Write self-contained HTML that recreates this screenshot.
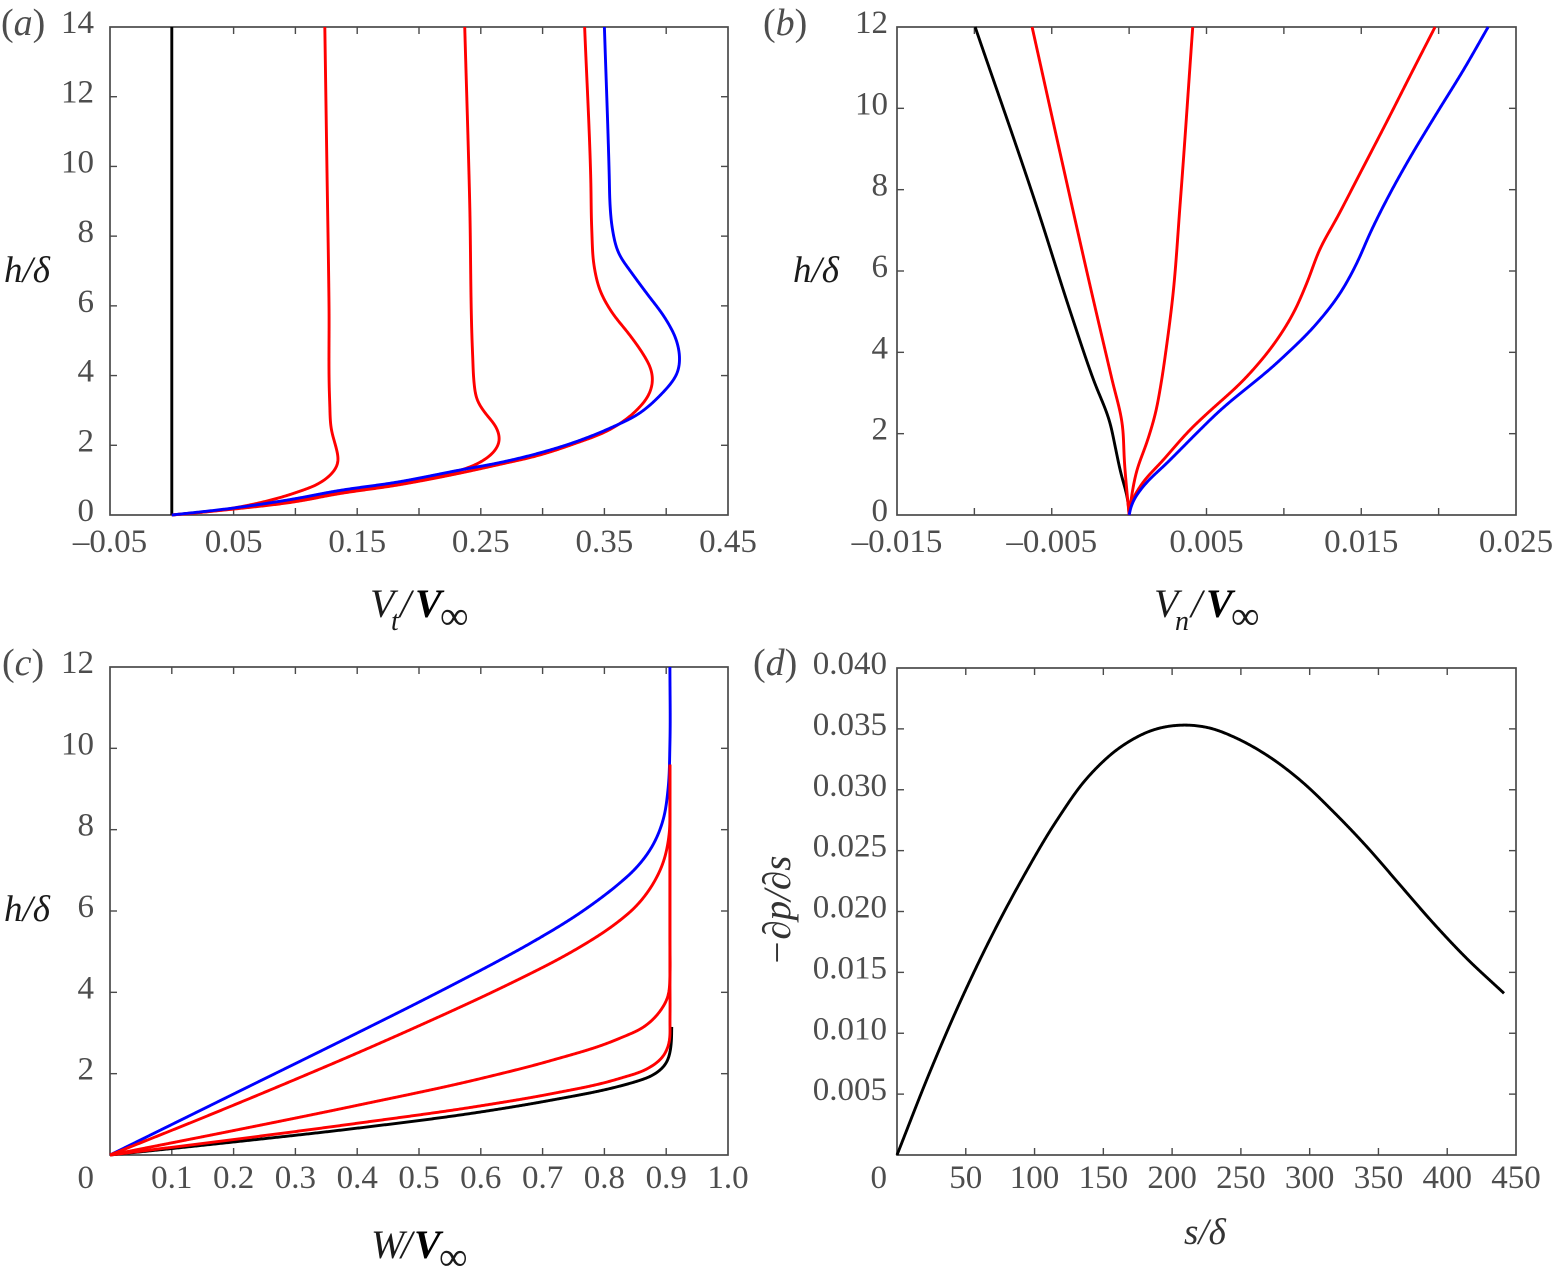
<!DOCTYPE html>
<html lang="en">
<head>
<meta charset="utf-8">
<title>Boundary layer velocity profiles and pressure gradient</title>
<style>
html,body{margin:0;padding:0;background:#fff;width:1553px;height:1272px;overflow:hidden}
svg{display:block}
text{font-family:"Liberation Serif","DejaVu Serif",serif}
.tick{font-size:33px;fill:#4d4d4d}
.panel{font-size:38px;fill:#4d4d4d}
.ax{font-size:36px;fill:#1a1a1a;font-style:italic}
.b{font-weight:bold}
.curve{fill:none;stroke-width:2.9;stroke-linejoin:round;stroke-linecap:butt}
</style>
</head>
<body>
<svg id="figure" xmlns="http://www.w3.org/2000/svg" width="1553" height="1272" viewBox="0 0 1553 1272">
  <rect x="0" y="0" width="1553" height="1272" fill="#fff"/>
  <g id="plots"></g>

  <text class="panel" x="1" y="35">(<tspan font-style="italic">a</tspan>)</text>
  <text class="panel" x="763" y="35">(<tspan font-style="italic">b</tspan>)</text>
  <text class="panel" x="2" y="675">(<tspan font-style="italic">c</tspan>)</text>
  <text class="panel" x="753" y="675">(<tspan font-style="italic">d</tspan>)</text>

  <text class="ax" x="4" y="282" style="font-size:37px">h/δ</text>
  <text class="ax" x="793" y="282" style="font-size:37px">h/δ</text>
  <text class="ax" x="4" y="921" style="font-size:37px">h/δ</text>

  <g>
    <text class="ax" x="370" y="617" style="font-size:40px">V</text>
    <text class="ax" x="391" y="630" style="font-size:28px">t</text>
    <text class="ax" x="400" y="617" style="font-size:40px">/</text>
    <text class="ax b" x="415" y="617" style="font-size:40px;fill:#000">V</text>
    <text class="ax" x="440" y="629" style="font-size:40px;font-style:normal">∞</text>
  </g>
  <g>
    <text class="ax" x="1154" y="617" style="font-size:40px">V</text>
    <text class="ax" x="1175" y="630" style="font-size:28px">n</text>
    <text class="ax" x="1191" y="617" style="font-size:40px">/</text>
    <text class="ax b" x="1206" y="617" style="font-size:40px;fill:#000">V</text>
    <text class="ax" x="1231" y="629" style="font-size:40px;font-style:normal">∞</text>
  </g>
  <g>
    <text class="ax" x="371" y="1258" style="font-size:40px">W</text>
    <text class="ax" x="401" y="1258" style="font-size:40px">/</text>
    <text class="ax b" x="414" y="1258" style="font-size:40px;fill:#000">V</text>
    <text class="ax" x="439" y="1270" style="font-size:40px;font-style:normal">∞</text>
  </g>
  <text class="ax" x="1184" y="1244" style="font-size:37px;fill:#333">s/δ</text>
  <text class="ax" transform="translate(790,966) rotate(-90)" style="font-size:39px;fill:#333">−∂p/∂s</text>
</svg>
<script>
// ---- Tick values and labels ----
const aXTicks = [-0.05, 0, 0.05, 0.1, 0.15, 0.2, 0.25, 0.3, 0.35, 0.4, 0.45];
const aXLabels = [-0.05, 0.05, 0.15, 0.25, 0.35, 0.45];
const aXLabelText = ['–0.05', '0.05', '0.15', '0.25', '0.35', '0.45'];
const aYTicks = [0, 2, 4, 6, 8, 10, 12, 14];
const aYLabelText = ['0', '2', '4', '6', '8', '10', '12', '14'];

const bXTicks = [-0.015, -0.01, -0.005, 0, 0.005, 0.01, 0.015, 0.02, 0.025];
const bXLabels = [-0.015, -0.005, 0.005, 0.015, 0.025];
const bXLabelText = ['–0.015', '–0.005', '0.005', '0.015', '0.025'];
const bYTicks = [0, 2, 4, 6, 8, 10, 12];
const bYLabelText = ['0', '2', '4', '6', '8', '10', '12'];

const cXTicks = [0, 0.1, 0.2, 0.3, 0.4, 0.5, 0.6, 0.7, 0.8, 0.9, 1.0];
const cXLabels = [0.1, 0.2, 0.3, 0.4, 0.5, 0.6, 0.7, 0.8, 0.9, 1.0];
const cXLabelText = ['0.1', '0.2', '0.3', '0.4', '0.5', '0.6', '0.7', '0.8', '0.9', '1.0'];
const cYTicks = [2, 4, 6, 8, 10, 12];
const cYLabelText = ['2', '4', '6', '8', '10', '12'];

const dXTicks = [50, 100, 150, 200, 250, 300, 350, 400, 450];
const dXLabels = [50, 100, 150, 200, 250, 300, 350, 400, 450];
const dXLabelText = ['50', '100', '150', '200', '250', '300', '350', '400', '450'];
const dYTicks = [0.005, 0.01, 0.015, 0.02, 0.025, 0.03, 0.035, 0.04];
const dYLabelText = ['0.005', '0.010', '0.015', '0.020', '0.025', '0.030', '0.035', '0.040'];

// ---- Panel (a): V_t / V_inf against h / delta ----
const aBlackV = [0, 0];
const aBlackH = [0, 14];
const aRed1V = [0, 0.025, 0.05, 0.077, 0.1035, 0.12, 0.13, 0.135, 0.1335, 0.129, 0.1278, 0.1272, 0.1255, 0.1238];
const aRed1H = [0, 0.08, 0.2, 0.4, 0.68, 0.92, 1.2, 1.5, 1.86, 2.44, 3.2, 6, 10, 14];
const aRed2V = [0, 0.05, 0.105, 0.13, 0.1845, 0.2325, 0.249, 0.2605, 0.2654, 0.263, 0.254, 0.2468, 0.2445, 0.2435, 0.241, 0.237];
const aRed2H = [0, 0.18, 0.44, 0.61, 0.9, 1.27, 1.5, 1.8, 2.1, 2.5, 2.9, 3.3, 3.8, 4.5, 9, 14];
const aRed3V = [0, 0.05, 0.105, 0.13, 0.1845, 0.233, 0.265, 0.2977, 0.3245, 0.357, 0.376, 0.3868, 0.3892, 0.3875, 0.3827, 0.3706, 0.3557, 0.3463, 0.3418, 0.3398, 0.339, 0.334];
const aRed3H = [0, 0.17, 0.41, 0.58, 0.87, 1.2, 1.45, 1.72, 2.03, 2.5, 3.0, 3.5, 3.87, 4.22, 4.54, 5.16, 5.83, 6.45, 7.1, 8.17, 9.6, 14];
const aBlueV = [0, 0.05, 0.1035, 0.13, 0.1845, 0.233, 0.265, 0.2977, 0.3245, 0.357, 0.3786, 0.397, 0.4045, 0.4095, 0.411, 0.4083, 0.4, 0.384, 0.3722, 0.361, 0.3566, 0.3544, 0.354, 0.35];
const aBlueH = [0, 0.2, 0.49, 0.67, 0.955, 1.29, 1.5, 1.78, 2.07, 2.53, 2.92, 3.5, 3.8, 4.1, 4.45, 5.02, 5.6, 6.37, 6.94, 7.54, 8.17, 9, 9.6, 14];

// ---- Panel (b): V_n / V_inf against h / delta ----
const bBlackV = [0, -0.00006, -0.00058, -0.0009, -0.00123, -0.0023, -0.0038, -0.0059, -0.00995];
const bBlackH = [0, 0.3, 1.1, 1.68, 2.26, 3.32, 5, 7.5, 12];
const bRed1V = [0, -0.00005, -0.0003, -0.00045, -0.0011, -0.0025, -0.0044, -0.00627];
const bRed1H = [0, 0.2, 1.28, 2.26, 3.32, 5.6, 8.8, 12];
const bRed2V = [0, 0.0001, 0.0005, 0.00116, 0.0017, 0.00205, 0.0024, 0.0028, 0.0033, 0.00411];
const bRed2H = [0, 0.3, 1.1, 1.8, 2.5, 3.2, 4.1, 5.3, 7.67, 12];
const bRed3V = [0, 0.00006, 0.0007, 0.0022, 0.00413, 0.00491, 0.0076, 0.00954, 0.01061, 0.01148, 0.01234, 0.01342, 0.01492, 0.01665, 0.01837, 0.01977];
const bRed3H = [0, 0.2, 0.7, 1.35, 2.17, 2.45, 3.4, 4.3, 4.96, 5.7, 6.55, 7.3, 8.4, 9.67, 10.96, 12];
const bBlueV = [0, 0.0002, 0.0009, 0.00245, 0.00478, 0.00545, 0.00975, 0.01213, 0.01363, 0.01471, 0.01557, 0.01675, 0.01794, 0.01988, 0.0216, 0.0232];
const bBlueH = [0, 0.3, 0.7, 1.28, 2.17, 2.42, 3.81, 4.71, 5.45, 6.19, 6.93, 7.83, 8.65, 9.88, 10.94, 12];

// ---- Panel (c): W / V_inf against h / delta ----
const cBlackW = [0, 0.2, 0.399, 0.604, 0.712, 0.824, 0.846, 0.885, 0.901, 0.907, 0.909];
const cBlackH = [0, 0.32, 0.658, 1.068, 1.343, 1.69, 1.782, 2.02, 2.26, 2.58, 3.15];
const cRed1W = [0, 0.2, 0.399, 0.604, 0.712, 0.824, 0.874, 0.895, 0.905, 0.906, 0.906, 0.906, 0.906];
const cRed1H = [0, 0.38, 0.778, 1.219, 1.5, 1.88, 2.155, 2.41, 2.75, 3.25, 4.5, 6.5, 9.6];
const cRed2W = [0, 0.1996, 0.399, 0.604, 0.712, 0.824, 0.869, 0.892, 0.903, 0.906, 0.906, 0.906, 0.906];
const cRed2H = [0, 0.6, 1.218, 1.895, 2.316, 2.865, 3.2, 3.57, 3.88, 4.38, 5.2, 7, 9.6];
const cRed3W = [0, 0.146, 0.3074, 0.399, 0.496, 0.631, 0.666, 0.7335, 0.755, 0.824, 0.847, 0.874, 0.895, 0.905, 0.906, 0.906];
const cRed3H = [0, 0.89, 1.907, 2.5, 3.15, 4.095, 4.354, 4.88, 5.065, 5.755, 6.05, 6.55, 7.18, 7.9, 8.7, 9.6];
const cBlueW = [0, 0.1, 0.1996, 0.399, 0.5016, 0.569, 0.631, 0.685, 0.766, 0.824, 0.846, 0.879, 0.895, 0.903, 0.906, 0.906];
const cBlueH = [0, 0.75, 1.497, 2.992, 3.772, 4.298, 4.794, 5.248, 6.009, 6.676, 6.973, 7.63, 8.23, 8.99, 10.1, 12];

// ---- Panel (d): pressure gradient against s / delta ----
const dS = [0, 24.2, 48.5, 67.8, 92.1, 116.3, 140.5, 164.8, 189, 210.8, 227.8, 244.5, 268.8, 293, 317.2, 341.5, 365.7, 390, 414.1, 441.3];
const dP = [0, 0.0069, 0.01322, 0.01776, 0.02291, 0.02751, 0.03126, 0.03369, 0.03502, 0.03532, 0.03507, 0.03436, 0.03285, 0.0308, 0.0282, 0.02533, 0.02218, 0.01903, 0.01615, 0.01328];

const SVGNS = 'http://www.w3.org/2000/svg';
const plots = document.getElementById('plots');

function linear(d0, d1, r0, r1) {
  return function (v) { return r0 + (v - d0) / (d1 - d0) * (r1 - r0); };
}

// Trace a spline through the mapped data points at about 1px spacing.
function tracePoints(pts) {
  function unit(a, b) {
    const dx = b[0] - a[0], dy = b[1] - a[1], l = Math.hypot(dx, dy) || 1;
    return [dx / l, dy / l, l];
  }
  function tangent(i) {
    if (i === 0) { const u = unit(pts[0], pts[1]); return [u[0], u[1]]; }
    if (i === pts.length - 1) { const u = unit(pts[i - 1], pts[i]); return [u[0], u[1]]; }
    const a = unit(pts[i - 1], pts[i]), b = unit(pts[i], pts[i + 1]);
    const w = a[2] + b[2];
    const tx = (b[2] * a[0] + a[2] * b[0]) / w, ty = (b[2] * a[1] + a[2] * b[1]) / w;
    const l = Math.hypot(tx, ty) || 1;
    return [tx / l, ty / l];
  }
  const out = [pts[0].slice()];
  for (let i = 0; i < pts.length - 1; i++) {
    const p = pts[i], q = pts[i + 1];
    const len = Math.hypot(q[0] - p[0], q[1] - p[1]);
    const seg = len / 3;
    const t0 = tangent(i), t1 = tangent(i + 1);
    const c1 = [p[0] + t0[0] * seg, p[1] + t0[1] * seg];
    const c2 = [q[0] - t1[0] * seg, q[1] - t1[1] * seg];
    const n = Math.max(1, Math.ceil(len));
    for (let k = 1; k <= n; k++) {
      const t = k / n, u = 1 - t;
      out.push([
        u * u * u * p[0] + 3 * u * u * t * c1[0] + 3 * u * t * t * c2[0] + t * t * t * q[0],
        u * u * u * p[1] + 3 * u * u * t * c1[1] + 3 * u * t * t * c2[1] + t * t * t * q[1]
      ]);
    }
  }
  return out;
}

// Light Gaussian pass along the trace so hand-read points do not leave kinks; end points stay fixed.
function smoothTrace(tr, sigma) {
  const reach = Math.round(sigma * 3);
  return tr.map(function (_, i) {
    const r = Math.min(reach, i, tr.length - 1 - i);
    let sx = 0, sy = 0, sw = 0;
    for (let k = -r; k <= r; k++) {
      const w = Math.exp(-k * k / (2 * sigma * sigma));
      sx += tr[i + k][0] * w;
      sy += tr[i + k][1] * w;
      sw += w;
    }
    return [sx / sw, sy / sw];
  });
}

function curvePath(pts) {
  return 'M' + smoothTrace(tracePoints(pts), 6).map(function (p) {
    return p[0].toFixed(2) + ' ' + p[1].toFixed(2);
  }).join('L');
}

function drawAxes(panel) {
  const g = document.createElementNS(SVGNS, 'g');
  
  
  plots.appendChild(g);
  const L = panel.box[0], T = panel.box[1], R = panel.box[2], B = panel.box[3];
  const TICK = 7;
  const sx = linear(panel.xDomain[0], panel.xDomain[1], L, R);
  const sy = linear(panel.yDomain[0], panel.yDomain[1], B, T);
  panel.sx = sx;
  panel.sy = sy;
  panel.group = g;

  function tickLine(x1, y1, x2, y2, name) {
    const t = document.createElementNS(SVGNS, 'line');
    t.setAttribute('x1', x1);
    t.setAttribute('y1', y1);
    t.setAttribute('x2', x2);
    t.setAttribute('y2', y2);
    t.setAttribute('stroke', '#4a4a4a');
    t.setAttribute('stroke-width', '1.4');
    
    
    g.appendChild(t);
  }
  panel.xTicks.forEach(function (v) {
    const x = sx(v);
    if (Math.abs(x - L) < 1 || Math.abs(x - R) < 1) return;
    tickLine(x, B, x, B - TICK, 'x-tick-bottom');
    tickLine(x, T, x, T + TICK, 'x-tick-top');
  });
  panel.yTicks.forEach(function (v) {
    const y = sy(v);
    if (Math.abs(y - T) < 1 || Math.abs(y - B) < 1) return;
    tickLine(L, y, L + TICK, y, 'y-tick-left');
    tickLine(R, y, R - TICK, y, 'y-tick-right');
  });

  const frame = document.createElementNS(SVGNS, 'rect');
  frame.setAttribute('x', L);
  frame.setAttribute('y', T);
  frame.setAttribute('width', R - L);
  frame.setAttribute('height', B - T);
  frame.setAttribute('fill', 'none');
  frame.setAttribute('stroke', '#4a4a4a');
  frame.setAttribute('stroke-width', '1.7');
  
  
  g.appendChild(frame);

  panel.xLabels.forEach(function (v, i) {
    const t = document.createElementNS(SVGNS, 'text');
    t.setAttribute('class', 'tick');
    t.setAttribute('text-anchor', 'middle');
    t.setAttribute('x', sx(v));
    t.setAttribute('y', panel.xLabelY);
    
    
    t.textContent = panel.xLabelText[i];
    g.appendChild(t);
  });
  panel.yTicks.forEach(function (v, i) {
    const t = document.createElementNS(SVGNS, 'text');
    t.setAttribute('class', 'tick');
    t.setAttribute('text-anchor', 'end');
    t.setAttribute('x', panel.yLabelX);
    t.setAttribute('y', sy(v) + 6);
    
    
    t.textContent = panel.yLabelText[i];
    g.appendChild(t);
  });
  if (panel.originLabelX) {
    const o = document.createElementNS(SVGNS, 'text');
    o.setAttribute('class', 'tick');
    o.setAttribute('text-anchor', 'end');
    o.setAttribute('x', panel.originLabelX);
    o.setAttribute('y', panel.xLabelY);
    
    
    o.textContent = '0';
    g.appendChild(o);
  }
}

function drawCurve(panel, xs, ys, color, name) {
  const pts = xs.map(function (x, i) { return [panel.sx(x), panel.sy(ys[i])]; });
  const p = document.createElementNS(SVGNS, 'path');
  p.setAttribute('class', 'curve');
  p.setAttribute('d', curvePath(pts));
  p.setAttribute('stroke', color);
  
  
  panel.group.appendChild(p);
}

const panelA = { id: 'a', box: [110, 27, 728, 515], xDomain: [-0.05, 0.45], yDomain: [0, 14],
  xTicks: aXTicks, yTicks: aYTicks, xLabels: aXLabels, xLabelText: aXLabelText, yLabelText: aYLabelText,
  xLabelY: 552, yLabelX: 94 };
const panelB = { id: 'b', box: [897, 27, 1516, 515], xDomain: [-0.015, 0.025], yDomain: [0, 12],
  xTicks: bXTicks, yTicks: bYTicks, xLabels: bXLabels, xLabelText: bXLabelText, yLabelText: bYLabelText,
  xLabelY: 552, yLabelX: 888 };
const panelC = { id: 'c', box: [110, 667, 728, 1155], xDomain: [0, 1], yDomain: [0, 12],
  xTicks: cXTicks, yTicks: cYTicks, xLabels: cXLabels, xLabelText: cXLabelText, yLabelText: cYLabelText,
  xLabelY: 1188, yLabelX: 94, originLabelX: 94 };
const panelD = { id: 'd', box: [897, 668, 1516, 1155], xDomain: [0, 450], yDomain: [0, 0.04],
  xTicks: dXTicks, yTicks: dYTicks, xLabels: dXLabels, xLabelText: dXLabelText, yLabelText: dYLabelText,
  xLabelY: 1188, yLabelX: 887, originLabelX: 887 };

[panelA, panelB, panelC, panelD].forEach(drawAxes);

drawCurve(panelA, aBlackV, aBlackH, '#000', 'a-black-curve');
drawCurve(panelA, aRed1V, aRed1H, '#f00', 'a-red-curve-1');
drawCurve(panelA, aRed2V, aRed2H, '#f00', 'a-red-curve-2');
drawCurve(panelA, aRed3V, aRed3H, '#f00', 'a-red-curve-3');
drawCurve(panelA, aBlueV, aBlueH, '#00f', 'a-blue-curve');

drawCurve(panelB, bBlackV, bBlackH, '#000', 'b-black-curve');
drawCurve(panelB, bRed1V, bRed1H, '#f00', 'b-red-curve-1');
drawCurve(panelB, bRed2V, bRed2H, '#f00', 'b-red-curve-2');
drawCurve(panelB, bRed3V, bRed3H, '#f00', 'b-red-curve-3');
drawCurve(panelB, bBlueV, bBlueH, '#00f', 'b-blue-curve');

drawCurve(panelC, cBlackW, cBlackH, '#000', 'c-black-curve');
drawCurve(panelC, cBlueW, cBlueH, '#00f', 'c-blue-curve');
drawCurve(panelC, cRed1W, cRed1H, '#f00', 'c-red-curve-1');
drawCurve(panelC, cRed2W, cRed2H, '#f00', 'c-red-curve-2');
drawCurve(panelC, cRed3W, cRed3H, '#f00', 'c-red-curve-3');

drawCurve(panelD, dS, dP, '#000', 'd-pressure-gradient-curve');
</script>
</body>
</html>
